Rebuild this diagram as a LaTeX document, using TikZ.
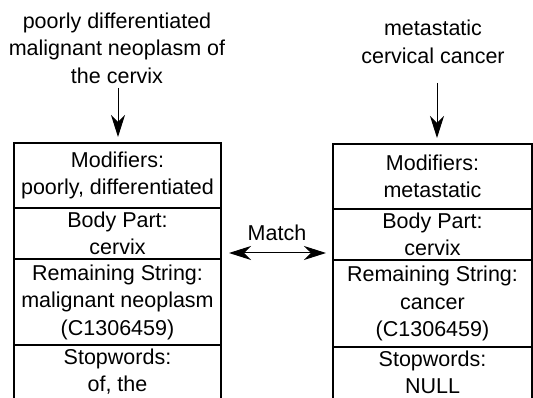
\documentclass[tikz,border=0pt]{standalone}
\usepackage{fontspec}
\setmainfont{Liberation Sans}
\usetikzlibrary{positioning,arrows.meta}

\begin{document}
\begin{tikzpicture}[x=1pt,y=1pt,
  >={Stealth[length=22pt,width=14pt,inset=7pt]},
  txt/.style={font=\fontsize{21.5}{27.5}\selectfont, align=center, inner sep=0pt},
  cell/.style={txt, draw, line width=1.5pt, outer sep=0pt},
  lcell/.style={cell, minimum width=207pt},
  rcell/.style={cell, minimum width=199pt},
  arr/.style={->, line width=1pt}]

\useasboundingbox (0,0) rectangle (533,398);
\clip (0,0) rectangle (533,398);

% Titles
\node[txt] (ltitle) at (117,350) {poorly differentiated\\malignant neoplasm of\\the cervix};
\node[txt] (rtitle) at (433,356) {metastatic\\cervical cancer};

% Left box
\node[lcell, minimum height=65pt, anchor=north] (lmod) at (117.5,255) {Modifiers:\\poorly, differentiated};
\node[lcell, minimum height=51pt, below=0pt of lmod] (lbody) {Body Part:\\cervix};
\node[lcell, minimum height=86pt, below=0pt of lbody] (lrem) {Remaining String:\\malignant neoplasm\\(C1306459)};
\node[lcell, minimum height=62pt, text depth=12pt, below=0pt of lrem] (lstop) {Stopwords:\\of, the};

% Right box
\node[rcell, minimum height=65pt, anchor=north] (rmod) at (432.5,254) {Modifiers:\\metastatic};
\node[rcell, minimum height=51pt, below=0pt of rmod] (rbody) {Body Part:\\cervix};
\node[rcell, minimum height=87pt, below=0pt of rbody] (rrem) {Remaining String:\\cancer\\(C1306459)};
\node[rcell, minimum height=60pt, text depth=10pt, below=0pt of rrem] (rstop) {Stopwords:\\NULL};

% Arrows
\coordinate (lin) at (118,310);
\coordinate (rin) at (437,315);
\draw[arr, shorten >=6pt] (lin) -- (lin |- lmod.north);
\draw[arr, shorten >=6pt] (rin) -- (rin |- rmod.north);

\draw[arr, <->, shorten <=8pt, shorten >=7pt] ([yshift=6pt]lrem.north east) -- ([yshift=6pt]lrem.north east -| rrem.west)
  node[txt, midway, above=12pt] (match) {Match};

\end{tikzpicture}
\end{document}
